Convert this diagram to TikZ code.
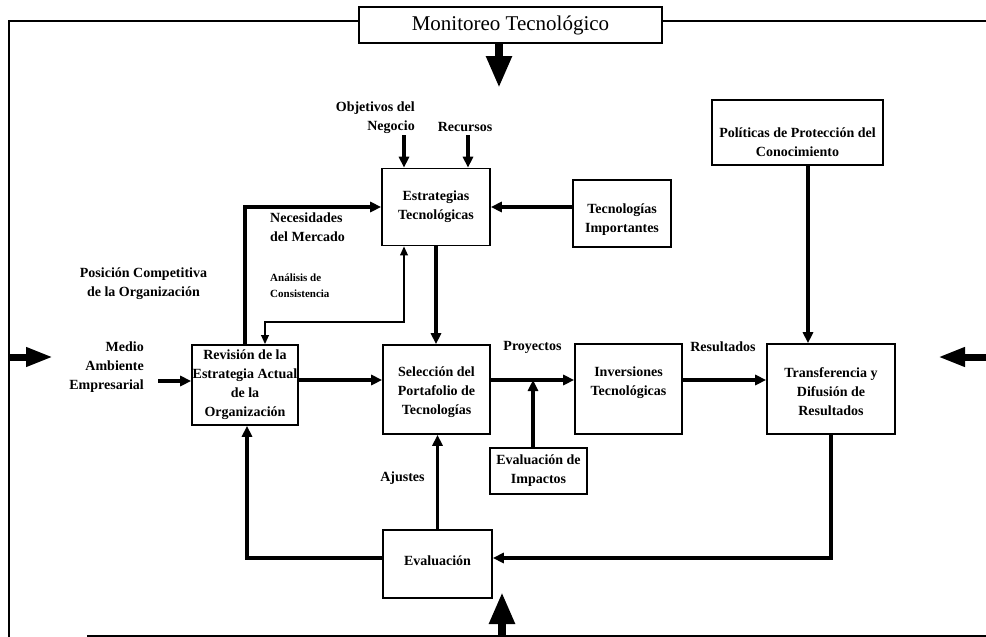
\documentclass[tikz,border=0pt]{standalone}
\usepackage{fontspec}
\setmainfont{Liberation Serif}
\usetikzlibrary{arrows.meta}
\newcommand\lblfont{\bfseries\fontsize{14}{19}\selectfont}
\newcommand\smallfont{\bfseries\fontsize{11}{16.5}\selectfont}
\begin{document}
\begin{tikzpicture}[x=1pt,y=-1pt,
  box/.style={draw, line width=1.6pt, inner sep=0pt, align=center, font=\lblfont},
  txt/.style={inner sep=0pt, align=center, font=\lblfont},
  frame/.style={line width=2pt},
  arr/.style={line width=3.4pt, -{Triangle[length=11pt,width=10pt]}},
  thinarr/.style={line width=1.8pt, {Triangle[length=9pt,width=7.5pt]}-{Triangle[length=9pt,width=7.5pt]}},
  bigarr/.style={line width=8pt, -{Triangle[length=32pt,width=24pt]}},
  sidearr/.style={line width=7pt, -{Triangle[length=27pt,width=18pt]}}
]
\useasboundingbox (0,0) rectangle (986,637);

% boxes
\node[box, minimum width=303pt, minimum height=36pt,
      font=\fontsize{21}{24}\selectfont] (mon) at (510.5,25) {Monitoreo Tecnológico};
\node[box, minimum width=108pt, minimum height=77pt] (est) at (436,207) {Estrategias\\Tecnológicas};
\node[box, minimum width=98pt, minimum height=67pt] (tec) at (622,213.5) {};
\node[txt] (tect) at (622,220) {Tecnologías\\Importantes};
\node[box, minimum width=171pt, minimum height=65pt] (pol) at (797.5,132.5) {};
\node[txt] (polt) at (797.5,142) {Políticas de Protección del\\Conocimiento};
\node[box, minimum width=106pt, minimum height=80pt] (rev) at (245,385)
  {Revisión de la\\Estrategia Actual\\de la\\Organización};
\node[box, minimum width=107pt, minimum height=89pt] (sel) at (436.5,389.5) {};
\node[txt] (selt) at (436.5,392) {Selección del\\Portafolio de\\Tecnologías};
\node[box, minimum width=107pt, minimum height=90pt] (inv) at (628.5,389) {};
\node[txt] (invt) at (628.5,382.5) {Inversiones\\Tecnológicas};
\node[box, minimum width=128pt, minimum height=90pt] (tra) at (831,389) {};
\node[txt] (trat) at (831,392) {Transferencia y\\Difusión de\\Resultados};
\node[box, minimum width=97pt, minimum height=46pt] (imp) at (538.5,471) {Evaluación de\\Impactos};
\node[box, minimum width=109pt, minimum height=68pt] (eva) at (437.5,564) {};
\node[txt] (evat) at (437.5,561) {Evaluación};

% free labels
\node[txt, align=right, anchor=east] (obj) at (415,117.5) {Objetivos del\\Negocio};
\node[txt] (rec) at (465,127) {Recursos};
\node[txt, align=left, anchor=west] (nec) at (270,227.5) {Necesidades\\del Mercado};
\node[txt, align=left, anchor=west, font=\smallfont] (ana) at (270,285.5) {Análisis de\\Consistencia};
\node[txt] (pos) at (143.5,284) {Posición Competitiva\\de la Organización};
\node[txt, align=right, anchor=east] (med) at (144,367.5) {Medio\\Ambiente\\Empresarial};
\node[txt] (pro) at (532.5,347) {Proyectos};
\node[txt] (res) at (723,347) {Resultados};
\node[txt] (aju) at (402.5,478) {Ajustes};

% outer frame
\coordinate (fTL) at (9,21);
\coordinate (fTR) at (986,21);
\coordinate (fBL) at (9,637);
\coordinate (fBS) at (87,636);
\coordinate (fBR) at (986,636);
\draw[frame] (mon.west |- fTL) -- (fTL) -- (fBL);
\draw[frame] (mon.east |- fTR) -- (fTR);
\draw[frame] (fBS) -- (fBR);

% large entry arrows
\coordinate (monTip) at (499,88);
\draw[bigarr] (mon.south -| monTip) -- (monTip);
\coordinate (botIn) at (502,636);
\coordinate (botTip) at (502,592);
\draw[bigarr] (botIn) -- (botTip);
\coordinate (leftIn) at (9,357);
\coordinate (leftTip) at (53,357);
\draw[sidearr] (leftIn) -- (leftTip);
\coordinate (rightIn) at (986,357);
\coordinate (rightTip) at (938,357);
\draw[sidearr] (rightIn) -- (rightTip);

% inputs to the strategy box
\coordinate (objA) at (404,135);
\coordinate (recA) at (468,135);
\draw[arr] (objA) -- (objA |- est.north);
\draw[arr] (recA) -- (recA |- est.north);
\draw[arr] (tec.west |- est.west) -- (est.east);
\draw[arr] (rev.north) |- (est.west);

% consistency loop
\coordinate (an1) at (404,322);
\coordinate (an2) at (265,322);
\draw[thinarr] (an1 |- est.south) -- (an1) -- (an2) -- (an2 |- rev.north);

\draw[arr] (est.south) -- (est.south |- sel.north);

% main row
\coordinate (row) at (0,380);
\coordinate (medA) at (158,381);
\draw[arr] (medA) -- (medA -| rev.west);
\draw[arr] (rev.east |- row) -- (sel.west |- row);
\draw[arr] (sel.east |- row) -- (inv.west |- row);
\draw[arr] (inv.east |- row) -- (tra.west |- row);
\coordinate (impJ) at (533,380);
\draw[arr] (impJ |- imp.north) -- (impJ);

\coordinate (polA) at (808,0);
\draw[arr] (pol.south -| polA) -- (tra.north -| polA);

% feedback loop
\coordinate (loop) at (0,558);
\coordinate (revB) at (247,0);
\draw[arr] (eva.north) -- (eva.north |- sel.south);
\draw[arr] (eva.west |- loop) -| (revB |- rev.south);
\draw[arr] (tra.south) |- (eva.east |- loop);
\end{tikzpicture}
\end{document}
